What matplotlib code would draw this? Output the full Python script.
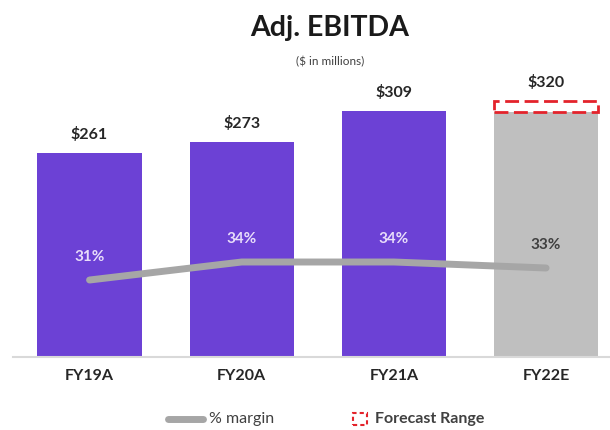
import matplotlib
matplotlib.use('Agg')
import matplotlib.pyplot as plt
from matplotlib.patches import Rectangle
from matplotlib.lines import Line2D

plt.rcParams['font.family'] = ['Lato', 'DejaVu Sans']

# data
years = ['FY19A', 'FY20A', 'FY21A', 'FY22E']
ebitda = [261, 273, 309, 308]          # FY22E bar = low end of the forecast range
ebitda_labels = ['$261', '$273', '$309', '$320']
margin = [31, 34, 34, 33]
margin_labels = ['31%', '34%', '34%', '33%']
forecast_low = 308
forecast_high = 320

purple = '#6C41D5'
grey_bar = '#BFBFBF'
line_grey = '#A6A6A6'
red = '#E3232B'
dark = '#262626'

fig = plt.figure(figsize=(6.1, 4.3), dpi=100, facecolor='white')
ax = fig.add_axes([0.0213, 0.1698, 0.9787, 0.6907])

x = list(range(len(years)))
bw = 0.685
colors = [purple] * 3 + [grey_bar]
ax.bar(x, ebitda, width=bw, color=colors, zorder=2)
ax.set_xlim(-0.503, 3.42)
ax.set_ylim(28, 367)

# forecast range box on the estimate bar
ax.add_patch(Rectangle((x[-1] - bw / 2, forecast_low), bw, forecast_high - forecast_low,
                       fill=False, edgecolor=red, linewidth=2.0,
                       linestyle=(0, (5, 2)), zorder=3))

# value labels
for i, v in enumerate(ebitda):
    top = forecast_high if i == len(ebitda) - 1 else v
    ax.annotate(ebitda_labels[i], (x[i], top), xytext=(0, 13.5), textcoords='offset points',
                ha='center', va='center', fontsize=11.5, fontweight='bold', color=dark)

for s in ['top', 'right', 'left']:
    ax.spines[s].set_visible(False)
ax.spines['bottom'].set_color('#D9D9D9')
ax.spines['bottom'].set_linewidth(1.5)
ax.set_yticks([])
ax.set_xticks(x)
ax.set_xticklabels(years, fontsize=11.5, fontweight='bold', color=dark)
ax.tick_params(axis='x', length=0, pad=9)

# margin line on a second scale
ax2 = ax.twinx()
ax2.plot(x, margin, color=line_grey, linewidth=5, solid_capstyle='round', zorder=4)
ax2.set_ylim(18.17, 67.67)
ax2.set_xlim(ax.get_xlim())
ax2.axis('off')
for i, m in enumerate(margin):
    c = '#404040' if i == len(margin) - 1 else '#E8DDFA'
    ax2.annotate(margin_labels[i], (x[i], m), xytext=(0, 16.5), textcoords='offset points',
                 ha='center', va='center', fontsize=11, fontweight='bold', color=c)

# titles
fig.text(0.541, 0.935, 'Adj. EBITDA', ha='center', va='center',
         fontsize=20.5, fontweight='bold', color='#1A1A1A')
fig.text(0.541, 0.856, '($ in millions)', ha='center', va='center',
         fontsize=8.5, color='#404040')

# hand-made legend
fig.add_artist(Line2D([0.276, 0.333], [0.0256, 0.0256], transform=fig.transFigure,
                      color=line_grey, linewidth=5, solid_capstyle='round'))
fig.text(0.343, 0.0256, '% margin', ha='left', va='center', fontsize=11.5, color='#404040')
fig.add_artist(Rectangle((0.578, 0.0116), 0.024, 0.028, transform=fig.transFigure,
                         fill=False, edgecolor=red, linewidth=1.5, linestyle=(0, (2, 1.5))))
fig.text(0.615, 0.0256, 'Forecast Range', ha='left', va='center', fontsize=11.5,
         fontweight='bold', color='#404040')

fig.savefig('out.png', dpi=100, facecolor='white')
